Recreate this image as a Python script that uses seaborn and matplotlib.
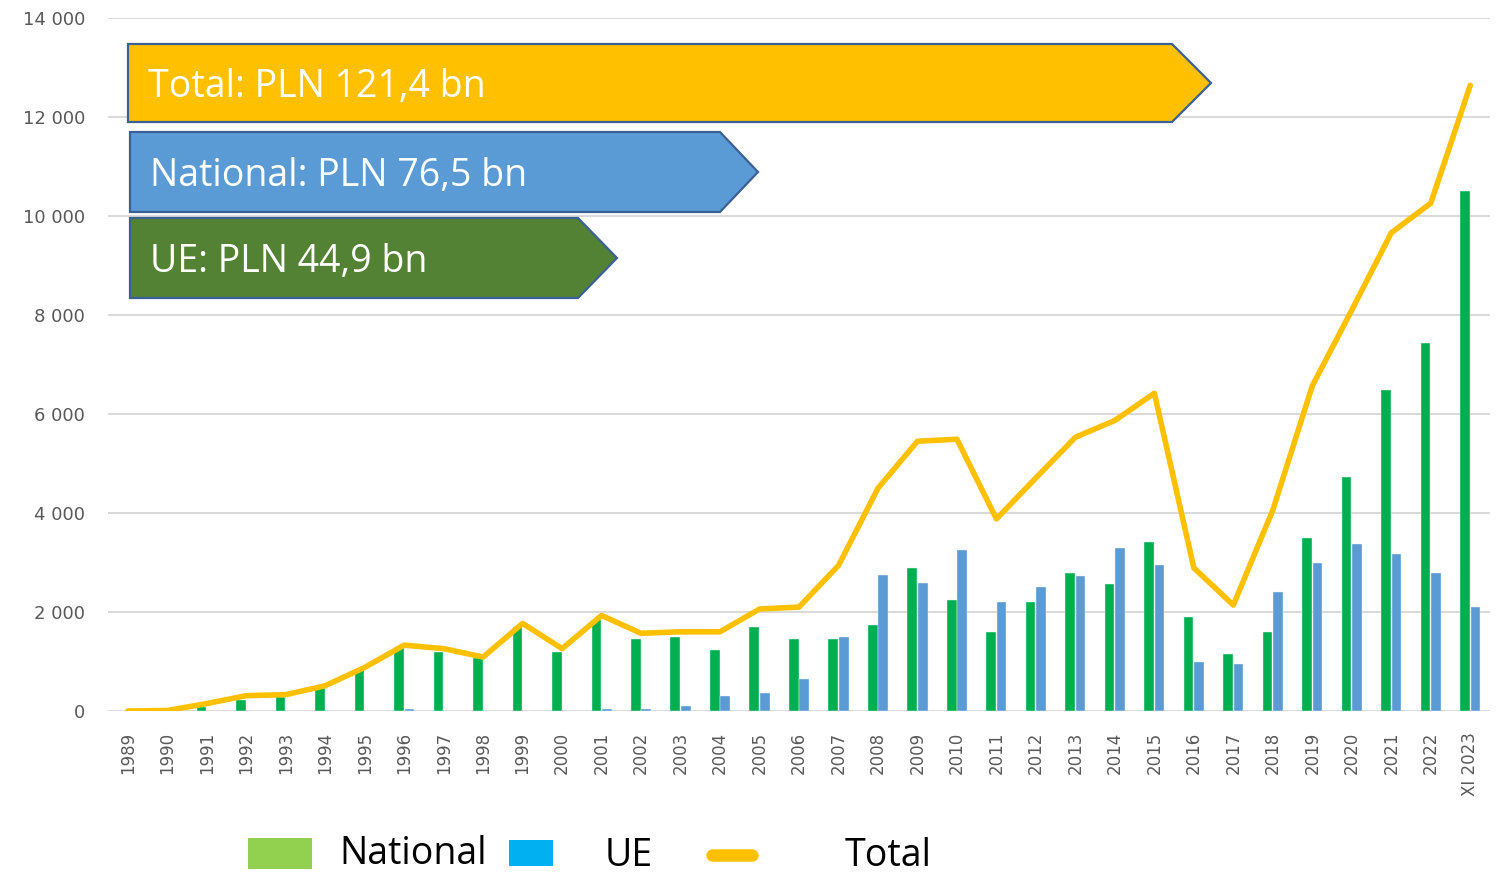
import numpy as np
import pandas as pd
import matplotlib
matplotlib.use("Agg")
import matplotlib.pyplot as plt
from matplotlib.patches import Polygon, Rectangle
from matplotlib.lines import Line2D
import seaborn as sns

# ---------------- data ----------------
years = [str(y) for y in range(1989, 2023)] + ["XI 2023"]
national = [0, 0, 80, 220, 280, 490, 830, 1270, 1200, 1070, 1700, 1200, 1840, 1450,
            1500, 1230, 1700, 1450, 1450, 1740, 2890, 2240, 1600, 2200, 2790, 2570,
            3420, 1900, 1150, 1600, 3500, 4730, 6480, 7430, 10500]
ue = [0, 0, 0, 0, 0, 0, 0, 40, 0, 0, 0, 0, 50, 50, 100, 310, 360, 650, 1500, 2750,
      2590, 3250, 2200, 2500, 2730, 3290, 2950, 990, 950, 2400, 2990, 3370, 3170,
      2790, 2100]
total = [0, 10, 150, 310, 330, 510, 880, 1330, 1260, 1090, 1770, 1260, 1930, 1570,
         1600, 1600, 2060, 2100, 2940, 4500, 5450, 5490, 3880, 4710, 5530, 5870,
         6420, 2890, 2140, 4060, 6570, 8100, 9660, 10260, 12640]
y_ticks = [0, 2000, 4000, 6000, 8000, 10000, 12000, 14000]
y_tick_labels = ["0", "2 000", "4 000", "6 000", "8 000", "10 000", "12 000", "14 000"]
series_names = ["National", "UE", "Total"]
banner_texts = ["Total: PLN 121,4 bn", "National: PLN 76,5 bn", "UE: PLN 44,9 bn"]

# ---------------- figure ----------------
W, H = 1496, 875
sns.set_style("white")
plt.rcParams["font.family"] = ["Open Sans", "DejaVu Sans"]

fig = plt.figure(figsize=(W / 100, H / 100), dpi=100)
ax = fig.add_axes([108 / W, 1 - 711 / H, (1490 - 108) / W, (711 - 18) / H])

df = pd.DataFrame({
    "year": years * 2,
    "series": ["National"] * len(years) + ["UE"] * len(years),
    "value": national + ue,
})
sns.barplot(data=df, x="year", y="value", hue="series", order=years,
            hue_order=["National", "UE"],
            palette={"National": "#00B050", "UE": "#5B9BD5"},
            width=0.53, gap=0.08, ax=ax, legend=False, zorder=2,
            edgecolor="#E8F5EC", linewidth=0.3, saturation=1)
sns.lineplot(x=np.arange(len(years)), y=total, color="#FFC000", linewidth=4.0,
             ax=ax, zorder=3)

ax.set_xlim(-0.5, len(years) - 0.5)
ax.set_ylim(0, 14000)
ax.set_yticks(y_ticks)
ax.set_yticklabels(y_tick_labels, family="DejaVu Sans", fontsize=13, color="#595959")
ax.set_xticks(np.arange(len(years)))
ax.set_xticklabels(years, rotation=90, family="DejaVu Sans", fontsize=12,
                   color="#595959")
ax.tick_params(axis="y", length=0, pad=16.5)
ax.tick_params(axis="x", length=0, pad=15)
ax.set_xlabel("")
ax.set_ylabel("")
for s in ax.spines.values():
    s.set_visible(False)
ax.yaxis.grid(True, color="#D9D9D9", linewidth=1.4, zorder=0)
ax.set_axisbelow(True)


def fp(x, y):
    return (x / W, 1 - y / H)


# ---------------- banners ----------------
banners = [
    (128, 44, 122, 1172, 1211, "#FFC000", 97),
    (130, 132, 212, 720, 758, "#5B9BD5", 186),
    (130, 218, 298, 578, 617, "#548235", 272),
]
for (x0, t, b, xb, xt, col, base), txt in zip(banners, banner_texts):
    pts = [fp(x0, t), fp(xb, t), fp(xt, (t + b) / 2), fp(xb, b), fp(x0, b)]
    fig.patches.append(Polygon(pts, closed=True, transform=fig.transFigure,
                               facecolor=col, edgecolor="#3A6193", linewidth=1.6,
                               zorder=5))
    fig.text(*fp(x0 + 20, base), txt, color="white", fontsize=27,
             family=["Open Sans", "DejaVu Sans"], va="baseline", ha="left", zorder=6)

# ---------------- legend ----------------
leg_font = ["Open Sans", "DejaVu Sans"]
fig.patches.append(Rectangle(fp(248, 869), 64 / W, 31 / H, transform=fig.transFigure,
                             facecolor="#92D050", edgecolor="none", zorder=5))
fig.text(*fp(339, 864), series_names[0], fontsize=27, family=leg_font,
         color="black", va="baseline", ha="left")
fig.patches.append(Rectangle(fp(509, 866), 44 / W, 26 / H, transform=fig.transFigure,
                             facecolor="#00B0F0", edgecolor="none", zorder=5))
fig.text(*fp(605, 866), series_names[1], fontsize=27, family=leg_font,
         color="black", va="baseline", ha="left")
fig.lines.append(Line2D([712 / W, 752 / W], [1 - 855 / H, 1 - 855 / H],
                        transform=fig.transFigure, color="#FFC000", linewidth=9,
                        solid_capstyle="round"))
fig.text(*fp(845, 866), series_names[2], fontsize=27, family=leg_font,
         color="black", va="baseline", ha="left")

fig.savefig("out.png", dpi=100)
